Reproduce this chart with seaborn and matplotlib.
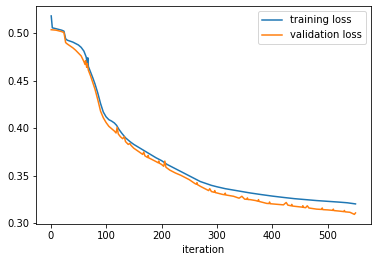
import matplotlib
matplotlib.use("Agg")
import matplotlib.pyplot as plt
import seaborn as sns

# training loss
train_iter = [1, 3, 10, 20, 24, 27, 30, 40, 50, 55, 60, 64, 66, 67, 68, 72, 76, 80,
              85, 90, 95, 100, 105, 110, 115, 119, 123, 128, 135, 143, 150, 160, 170,
              180, 190, 200, 210, 220, 230, 240, 250, 260, 270, 280, 290, 300, 315,
              330, 345, 360, 380, 400, 420, 440, 460, 480, 500, 520, 535, 550]
train_loss = [0.518, 0.5055, 0.5045, 0.503, 0.502, 0.494, 0.4925, 0.4905, 0.4875,
              0.485, 0.481, 0.475, 0.468, 0.474, 0.465, 0.459, 0.453, 0.4465, 0.437,
              0.426, 0.417, 0.412, 0.409, 0.4075, 0.4055, 0.403, 0.399, 0.395, 0.390,
              0.386, 0.383, 0.3795, 0.376, 0.3725, 0.369, 0.366, 0.362, 0.359, 0.356,
              0.353, 0.350, 0.347, 0.344, 0.342, 0.340, 0.3385, 0.3365, 0.335, 0.3335,
              0.332, 0.3303, 0.3287, 0.3273, 0.326, 0.325, 0.324, 0.3232, 0.3224,
              0.3217, 0.3205]

# validation loss (noisier, small upward spikes)
val_iter = [1, 10, 20, 24, 27, 30, 40, 45, 50, 55, 60, 62, 63, 65, 66, 68, 72, 76,
            80, 85, 90, 95, 100, 105, 110, 115, 118, 120, 122, 126, 130, 133, 135,
            140, 143, 145, 150, 160, 166, 168, 170, 175, 176, 177, 180, 190, 194, 195,
            196, 200, 204, 206, 208, 215, 225, 235, 240, 250, 260, 263, 264, 265, 270,
            280, 285, 287, 290, 295, 296, 297, 300, 310, 314, 315, 316, 320, 330, 340,
            345, 350, 354, 355, 356, 360, 370, 374, 375, 376, 380, 390, 394, 395, 396,
            400, 420, 425, 428, 434, 435, 436, 440, 454, 455, 456, 460, 463, 466, 480,
            489, 490, 491, 500, 509, 510, 511, 520, 529, 530, 531, 540, 548, 550]
val_loss = [0.5035, 0.503, 0.5015, 0.5005, 0.490, 0.4885, 0.4845, 0.482, 0.479,
            0.476, 0.470, 0.467, 0.471, 0.464, 0.468, 0.461, 0.455, 0.448, 0.441,
            0.430, 0.418, 0.411, 0.406, 0.402, 0.3995, 0.397, 0.395, 0.401, 0.394,
            0.391, 0.389, 0.391, 0.386, 0.383, 0.384, 0.382, 0.379, 0.375, 0.3725,
            0.375, 0.371, 0.3692, 0.3715, 0.3688, 0.368, 0.365, 0.3637, 0.3655,
            0.3633, 0.362, 0.360, 0.3655, 0.359, 0.356, 0.353, 0.3505, 0.349, 0.346,
            0.342, 0.3411, 0.3428, 0.3407, 0.339, 0.336, 0.3345, 0.3365, 0.3335,
            0.3327, 0.3345, 0.3324, 0.332, 0.3305, 0.3301, 0.3318, 0.3299, 0.3295,
            0.3285, 0.3265, 0.3285, 0.3255, 0.3253, 0.3268, 0.3251, 0.325, 0.324,
            0.3233, 0.3250, 0.3231, 0.3225, 0.321, 0.3209, 0.3225, 0.3207, 0.3205,
            0.3195, 0.322, 0.3192, 0.3185, 0.3200, 0.3183, 0.318, 0.3171, 0.3186,
            0.3169, 0.3165, 0.3185, 0.3162, 0.315, 0.3147, 0.3162, 0.3145, 0.3142,
            0.3137, 0.3150, 0.3135, 0.313, 0.3124, 0.3136, 0.3122, 0.3117, 0.3095,
            0.311]

fig, ax = plt.subplots(figsize=(378 / 72, 262 / 72), dpi=72)
fig.subplots_adjust(left=36 / 378, right=370.7 / 378, top=1 - 6 / 262, bottom=1 - 224.3 / 262)

sns.lineplot(x=train_iter, y=train_loss, ax=ax, label="training loss", color="#1f77b4")
sns.lineplot(x=val_iter, y=val_loss, ax=ax, label="validation loss", color="#ff7f0e")

ax.set_xlabel("iteration")
ax.set_yticks([0.30, 0.35, 0.40, 0.45, 0.50])
ax.legend(loc="upper right")

fig.savefig("out.png", dpi=72)
